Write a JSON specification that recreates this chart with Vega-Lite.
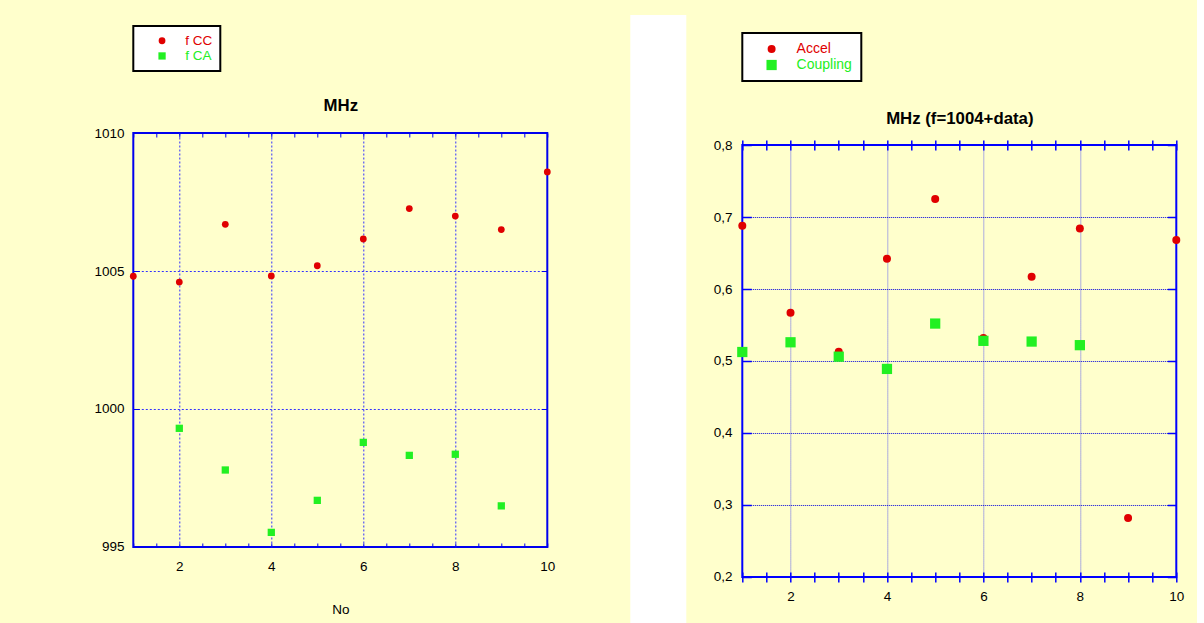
{
  "$schema": "https://vega.github.io/schema/vega-lite/v6.json",
  "background": "#ffffcc",
  "padding": {"left": 92.3, "top": 12, "right": 12, "bottom": 0},
  "config": {
    "font": "Liberation Sans",
    "view": {"stroke": null},
    "axis": {"labelFont": "Liberation Sans", "titleFont": "Liberation Sans"},
    "legend": {"labelFont": "Liberation Sans", "strokeWidth": 2}
  },
  "resolve": {"scale": {"color": "independent", "shape": "independent", "size": "independent"}},
  "spacing": 26,
  "hconcat": [
    {
      "spacing": 74,
      "resolve": {"scale": {"color": "independent", "shape": "independent", "size": "independent"}},
      "hconcat": [
        {
          "spacing": 5,
          "resolve": {"scale": {"color": "independent", "shape": "independent", "size": "independent"}},
          "vconcat": [
            {
              "width": 1,
              "height": 1,
              "data": {"values": [{}]},
              "mark": {"type": "point", "opacity": 0},
              "encoding": {},
              "view": {"fill": null, "stroke": null}
            },
            {
              "width": 414,
              "height": 414,
              "view": {"fill": "#ffffcc", "stroke": "#0000ee", "strokeWidth": 2},
              "data": {"values": [
                {"No": 1, "MHz": 1004.81, "series": "f CC"},
                {"No": 2, "MHz": 1004.6, "series": "f CC"},
                {"No": 3, "MHz": 1006.69, "series": "f CC"},
                {"No": 4, "MHz": 1004.82, "series": "f CC"},
                {"No": 5, "MHz": 1005.19, "series": "f CC"},
                {"No": 6, "MHz": 1006.16, "series": "f CC"},
                {"No": 7, "MHz": 1007.26, "series": "f CC"},
                {"No": 8, "MHz": 1006.99, "series": "f CC"},
                {"No": 9, "MHz": 1006.5, "series": "f CC"},
                {"No": 10, "MHz": 1008.59, "series": "f CC"},
                {"No": 2, "MHz": 999.3, "series": "f CA"},
                {"No": 3, "MHz": 997.79, "series": "f CA"},
                {"No": 4, "MHz": 995.53, "series": "f CA"},
                {"No": 5, "MHz": 996.69, "series": "f CA"},
                {"No": 6, "MHz": 998.79, "series": "f CA"},
                {"No": 7, "MHz": 998.32, "series": "f CA"},
                {"No": 8, "MHz": 998.36, "series": "f CA"},
                {"No": 9, "MHz": 996.49, "series": "f CA"}
              ]},
              "resolve": {"axis": {"x": "independent", "y": "independent"}},
              "layer": [
                {
                  "mark": {"type": "point", "filled": true, "opacity": 1},
                  "encoding": {
                    "x": {
                      "field": "No", "type": "quantitative",
                      "scale": {"domain": [1, 10], "nice": false, "zero": false},
                      "axis": {
                        "orient": "bottom",
                        "values": [1, 1.5, 2, 2.5, 3, 3.5, 4, 4.5, 5, 5.5, 6, 6.5, 7, 7.5, 8, 8.5, 9, 9.5, 10],
                        "labelExpr": "datum.value % 2 == 0 ? '' + datum.value : ''",
                        "labelFlush": false, "labelOverlap": false,
                        "labelFontSize": 13.5, "labelColor": "black", "labelPadding": 17,
                        "domain": false,
                        "tickColor": "#0000ee", "tickSize": -4, "tickWidth": 1,
                        "grid": true, "gridColor": "#3030ff", "gridDash": [2, 2], "gridWidth": 1,
                        "gridOpacity": {"condition": {"test": "datum.value % 2 == 0 && datum.value < 10", "value": 1}, "value": 0},
                        "title": "No", "titleFontSize": 13.5, "titleFontWeight": "normal", "titleColor": "black", "titlePadding": 29
                      }
                    },
                    "y": {
                      "field": "MHz", "type": "quantitative",
                      "scale": {"domain": [995, 1010], "nice": false, "zero": false},
                      "axis": {
                        "orient": "left",
                        "values": [995, 1000, 1005, 1010],
                        "format": "d",
                        "labelFontSize": 13.5, "labelColor": "black", "labelPadding": 15.2,
                        "domain": false,
                        "tickColor": "#0000ee", "tickSize": -6, "tickWidth": 1,
                        "grid": true, "gridColor": "#3030ff", "gridDash": [2, 2], "gridWidth": 1,
                        "gridOpacity": {"condition": {"test": "datum.value > 995 && datum.value < 1010", "value": 1}, "value": 0},
                        "title": null
                      }
                    },
                    "color": {
                      "field": "series", "type": "nominal",
                      "scale": {"domain": ["f CC", "f CA"], "range": ["#e00000", "#22f022"]},
                      "legend": {
                        "orient": "none", "legendX": 0, "legendY": -107, "title": null,
                        "strokeColor": "black", "fillColor": "white", "padding": 8,
                        "symbolOffset": 14, "labelOffset": 16.5, "rowPadding": 0.2,
                        "labelFontSize": 13.5, "symbolSize": 48, "symbolStrokeWidth": 0,
                        "labelColor": {"expr": "datum.value === 'f CC' ? '#e00000' : '#22ee22'"}
                      }
                    },
                    "shape": {
                      "field": "series", "type": "nominal",
                      "scale": {"domain": ["f CC", "f CA"], "range": ["circle", "square"]}
                    },
                    "size": {
                      "field": "series", "type": "nominal",
                      "scale": {"domain": ["f CC", "f CA"], "range": [46, 53]},
                      "legend": null
                    }
                  }
                },
                {
                  "mark": {"type": "point", "opacity": 0},
                  "encoding": {
                    "x": {
                      "field": "No", "type": "quantitative",
                      "axis": {
                        "orient": "top",
                        "values": [1, 1.5, 2, 2.5, 3, 3.5, 4, 4.5, 5, 5.5, 6, 6.5, 7, 7.5, 8, 8.5, 9, 9.5, 10],
                        "labels": false, "domain": false, "grid": false,
                        "tickColor": "#0000ee", "tickSize": -4, "tickWidth": 1,
                        "title": "MHz", "titleFontSize": 16.8, "titleFontWeight": "bold", "titleColor": "black", "titlePadding": 18
                      }
                    },
                    "y": {
                      "field": "MHz", "type": "quantitative",
                      "axis": {
                        "orient": "right",
                        "values": [995, 1000, 1005, 1010],
                        "labels": false, "domain": false, "grid": false,
                        "tickColor": "#0000ee", "tickSize": -6, "tickWidth": 1, "title": null
                      }
                    }
                  }
                }
              ]
            }
          ]
        },
        {
          "width": 56,
          "height": 611,
          "data": {"values": [{}]},
          "mark": {"type": "point", "opacity": 0},
          "encoding": {},
          "view": {"fill": "white", "stroke": null}
        }
      ]
    },
    {
      "spacing": 12,
      "resolve": {"scale": {"color": "independent", "shape": "independent", "size": "independent"}},
      "vconcat": [
        {
          "width": 1,
          "height": 1,
          "data": {"values": [{}]},
          "mark": {"type": "point", "opacity": 0},
          "encoding": {},
          "view": {"fill": null, "stroke": null}
        },
        {
          "width": 434,
          "height": 432,
          "view": {"fill": "#ffffcc", "stroke": "#0000ff", "strokeWidth": 2},
          "data": {"values": [
            {"No": 1, "MHz": 0.688, "series": "Accel"},
            {"No": 2, "MHz": 0.567, "series": "Accel"},
            {"No": 3, "MHz": 0.513, "series": "Accel"},
            {"No": 4, "MHz": 0.642, "series": "Accel"},
            {"No": 5, "MHz": 0.725, "series": "Accel"},
            {"No": 6, "MHz": 0.532, "series": "Accel"},
            {"No": 7, "MHz": 0.617, "series": "Accel"},
            {"No": 8, "MHz": 0.684, "series": "Accel"},
            {"No": 9, "MHz": 0.282, "series": "Accel"},
            {"No": 10, "MHz": 0.668, "series": "Accel"},
            {"No": 1, "MHz": 0.5125, "series": "Coupling"},
            {"No": 2, "MHz": 0.526, "series": "Coupling"},
            {"No": 3, "MHz": 0.506, "series": "Coupling"},
            {"No": 4, "MHz": 0.489, "series": "Coupling"},
            {"No": 5, "MHz": 0.552, "series": "Coupling"},
            {"No": 6, "MHz": 0.528, "series": "Coupling"},
            {"No": 7, "MHz": 0.527, "series": "Coupling"},
            {"No": 8, "MHz": 0.522, "series": "Coupling"}
          ]},
          "resolve": {"axis": {"x": "independent", "y": "independent"}},
          "layer": [
            {
              "mark": {"type": "point", "filled": true, "opacity": 1},
              "encoding": {
                "x": {
                  "field": "No", "type": "quantitative",
                  "scale": {"domain": [1, 10], "nice": false, "zero": false},
                  "axis": {
                    "orient": "bottom",
                    "values": [1, 1.5, 2, 2.5, 3, 3.5, 4, 4.5, 5, 5.5, 6, 6.5, 7, 7.5, 8, 8.5, 9, 9.5, 10],
                    "labelExpr": "datum.value % 2 == 0 ? '' + datum.value : ''",
                    "labelFlush": false, "labelOverlap": false,
                    "labelFontSize": 13.5, "labelColor": "black", "labelPadding": 8,
                    "offset": -5,
                    "domain": false,
                    "tickColor": "#0000ff", "tickSize": 10, "tickWidth": 1.5,
                    "grid": true, "gridColor": "#5a5af0", "gridDash": [1, 1], "gridWidth": 1,
                    "gridOpacity": {"condition": {"test": "datum.value % 2 == 0 && datum.value < 10", "value": 1}, "value": 0},
                    "title": null
                  }
                },
                "y": {
                  "field": "MHz", "type": "quantitative",
                  "scale": {"domain": [0.2, 0.8], "nice": false, "zero": false},
                  "axis": {
                    "orient": "left",
                    "values": [0.2, 0.3, 0.4, 0.5, 0.6, 0.7, 0.8],
                    "labelExpr": "replace(format(datum.value, '.1f'), '.', ',')",
                    "labelFontSize": 13.5, "labelColor": "black", "labelPadding": 19.2,
                    "domain": false,
                    "tickColor": "#0000ff", "tickSize": -9, "tickWidth": 1.5,
                    "grid": true, "gridColor": "#0000dd", "gridDash": [1, 1], "gridWidth": 1,
                    "gridOpacity": {"condition": {"test": "datum.value > 0.25 && datum.value < 0.75", "value": 1}, "value": 0},
                    "title": null
                  }
                },
                "color": {
                  "field": "series", "type": "nominal",
                  "scale": {"domain": ["Accel", "Coupling"], "range": ["#e00000", "#22f022"]},
                  "legend": {
                    "orient": "none", "legendX": 0, "legendY": -112, "title": null,
                    "strokeColor": "black", "fillColor": "white", "padding": 9,
                    "symbolOffset": 13.3, "labelOffset": 18, "rowPadding": 2,
                    "labelFontSize": 14, "symbolSize": 75, "symbolStrokeWidth": 0,
                    "labelColor": {"expr": "datum.value === 'Accel' ? '#e00000' : '#22ee22'"}
                  }
                },
                "shape": {
                  "field": "series", "type": "nominal",
                  "scale": {"domain": ["Accel", "Coupling"], "range": ["circle", "square"]}
                },
                "size": {
                  "field": "series", "type": "nominal",
                  "scale": {"domain": ["Accel", "Coupling"], "range": [64, 105]},
                  "legend": null
                }
              }
            },
            {
              "mark": {"type": "point", "opacity": 0},
              "encoding": {
                "x": {
                  "field": "No", "type": "quantitative",
                  "axis": {
                    "orient": "top",
                    "values": [1, 1.5, 2, 2.5, 3, 3.5, 4, 4.5, 5, 5.5, 6, 6.5, 7, 7.5, 8, 8.5, 9, 9.5, 10],
                    "labels": false, "domain": false, "grid": false, "offset": -5,
                    "tickColor": "#0000ff", "tickSize": 10, "tickWidth": 1.5,
                    "title": "MHz (f=1004+data)", "titleFontSize": 16.8, "titleFontWeight": "bold", "titleColor": "black", "titlePadding": 12
                  }
                },
                "y": {
                  "field": "MHz", "type": "quantitative",
                  "axis": {
                    "orient": "right",
                    "values": [0.2, 0.3, 0.4, 0.5, 0.6, 0.7, 0.8],
                    "labels": false, "domain": false, "grid": false,
                    "tickColor": "#0000ff", "tickSize": -9, "tickWidth": 1.5, "title": null
                  }
                }
              }
            }
          ]
        }
      ]
    }
  ]
}
